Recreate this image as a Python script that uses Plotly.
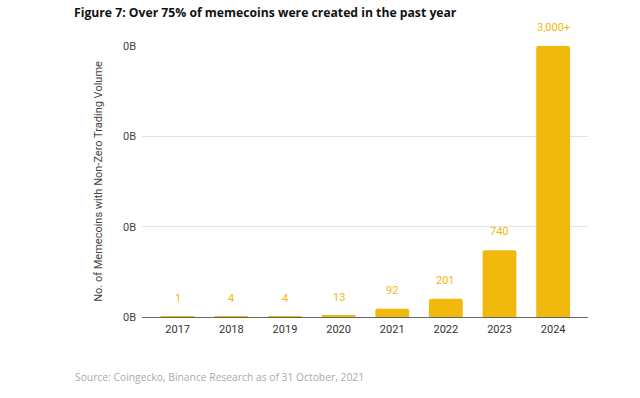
import plotly.graph_objects as go

years = ["2017", "2018", "2019", "2020", "2021", "2022", "2023", "2024"]
counts = [1, 4, 4, 13, 92, 201, 740, 3000]
value_labels = ["1", "4", "4", "13", "92", "201", "740", "3,000+"]
y_ticks = [0, 1000, 2000, 3000]
y_tick_text = ["0B", "0B", "0B", "0B"]

YELLOW = "#F0B90B"

fig = go.Figure()
fig.add_trace(go.Bar(
    x=years, y=counts,
    marker=dict(color=YELLOW, cornerradius=2, line=dict(width=0)),
    width=0.63,
    hoverinfo="x+y",
))

for i, (v, lab) in enumerate(zip(counts, value_labels)):
    fig.add_annotation(
        x=i, y=v, text=lab, showarrow=False,
        yanchor="bottom", yshift=10,
        font=dict(family="Roboto, Arial, sans-serif", size=11, color=YELLOW),
    )

fig.update_layout(
    width=640, height=398,
    margin=dict(l=142, r=52, t=46, b=81),
    paper_bgcolor="white", plot_bgcolor="white",
    showlegend=False,
    font=dict(family="Roboto, Arial, sans-serif", size=11, color="#333333"),
    title=dict(
        text="<b>Figure 7: Over 75% of memecoins were created in the past year</b>",
        x=74 / 640, xanchor="left", xref="container",
        y=1 - 12.5 / 398, yanchor="middle", yref="container",
        font=dict(family="Open Sans, sans-serif", size=12.2, color="#111111"),
    ),
    xaxis=dict(
        type="category", range=[-0.665, 7.65],
        showgrid=False, showline=False, ticks="",
        ticklabelstandoff=4,
        tickfont=dict(size=11, color="#333333"),
    ),
    yaxis=dict(
        range=[0, 3000], tickvals=y_ticks, ticktext=y_tick_text,
        showgrid=True, gridcolor="#e3e3e3", gridwidth=1,
        zeroline=True, zerolinecolor="#666666", zerolinewidth=1,
        ticks="", ticklabelstandoff=5,
        tickfont=dict(size=11, color="#444444"),
        title=dict(text="No. of Memecoins with Non-Zero Trading Volume",
                   font=dict(size=11, color="#444444"), standoff=18),
    ),
)

fig.add_annotation(
    text="Source: Coingecko, Binance Research as of 31 October, 2021",
    xref="paper", yref="paper", x=(73 - 142) / 446, y=-(377 - 317) / 271,
    xanchor="left", yanchor="middle", showarrow=False,
    font=dict(family="Open Sans, sans-serif", size=10.3, color="#aaaaaa"),
)

fig.write_html("out.html", config={"displayModeBar": False},
               post_script="document.body.style.margin='0';document.body.style.padding='0';")
